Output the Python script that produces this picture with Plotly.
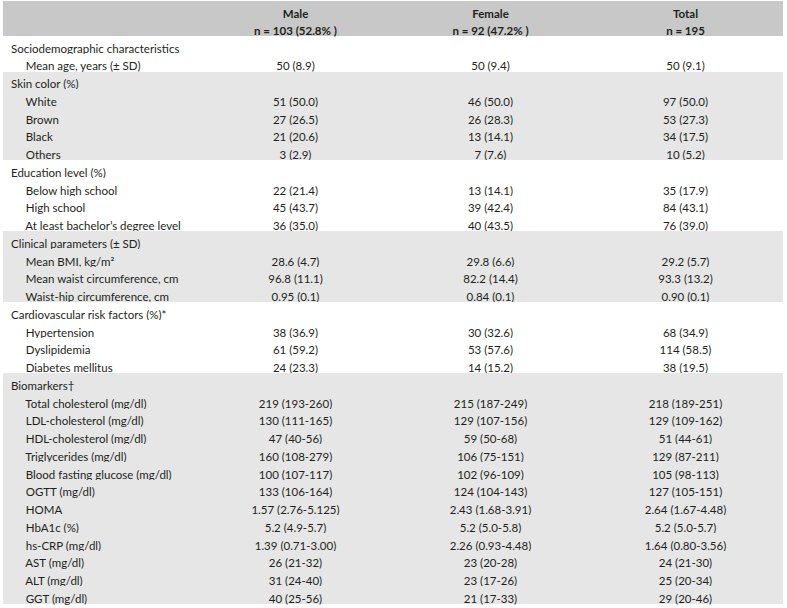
import plotly.graph_objects as go

# ---- data ----
header_top = ["", "Male", "Female", "Total"]
header_sub = ["", "n = 103 (52.8% )", "n = 92 (47.2% )", "n = 195"]

sections = [
    "Sociodemographic characteristics",
    "Skin color (%)",
    "Education level (%)",
    "Clinical parameters (± SD)",
    "Cardiovascular risk factors (%)*",
    "Biomarkers†",
]

section_items = [
    ["Mean age, years (± SD)"],
    ["White", "Brown", "Black", "Others"],
    ["Below high school", "High school", "At least bachelor’s degree level"],
    ["Mean BMI, kg/m²", "Mean waist circumference, cm", "Waist-hip circumference, cm"],
    ["Hypertension", "Dyslipidemia", "Diabetes mellitus"],
    ["Total cholesterol (mg/dl)", "LDL-cholesterol (mg/dl)", "HDL-cholesterol (mg/dl)",
     "Triglycerides (mg/dl)", "Blood fasting glucose (mg/dl)", "OGTT (mg/dl)", "HOMA",
     "HbA1c (%)", "hs-CRP (mg/dl)", "AST (mg/dl)", "ALT (mg/dl)", "GGT (mg/dl)"],
]

male_values = [
    ["50 (8.9)"],
    ["51 (50.0)", "27 (26.5)", "21 (20.6)", "3 (2.9)"],
    ["22 (21.4)", "45 (43.7)", "36 (35.0)"],
    ["28.6 (4.7)", "96.8 (11.1)", "0.95 (0.1)"],
    ["38 (36.9)", "61 (59.2)", "24 (23.3)"],
    ["219 (193-260)", "130 (111-165)", "47 (40-56)", "160 (108-279)", "100 (107-117)",
     "133 (106-164)", "1.57 (2.76-5.125)", "5.2 (4.9-5.7)", "1.39 (0.71-3.00)",
     "26 (21-32)", "31 (24-40)", "40 (25-56)"],
]

female_values = [
    ["50 (9.4)"],
    ["46 (50.0)", "26 (28.3)", "13 (14.1)", "7 (7.6)"],
    ["13 (14.1)", "39 (42.4)", "40 (43.5)"],
    ["29.8 (6.6)", "82.2 (14.4)", "0.84 (0.1)"],
    ["30 (32.6)", "53 (57.6)", "14 (15.2)"],
    ["215 (187-249)", "129 (107-156)", "59 (50-68)", "106 (75-151)", "102 (96-109)",
     "124 (104-143)", "2.43 (1.68-3.91)", "5.2 (5.0-5.8)", "2.26 (0.93-4.48)",
     "23 (20-28)", "23 (17-26)", "21 (17-33)"],
]

total_values = [
    ["50 (9.1)"],
    ["97 (50.0)", "53 (27.3)", "34 (17.5)", "10 (5.2)"],
    ["35 (17.9)", "84 (43.1)", "76 (39.0)"],
    ["29.2 (5.7)", "93.3 (13.2)", "0.90 (0.1)"],
    ["68 (34.9)", "114 (58.5)", "38 (19.5)"],
    ["218 (189-251)", "129 (109-162)", "51 (44-61)", "129 (87-211)", "105 (98-113)",
     "127 (105-151)", "2.64 (1.67-4.48)", "5.2 (5.0-5.7)", "1.64 (0.80-3.56)",
     "24 (21-30)", "25 (20-34)", "29 (20-46)"],
]

# ---- build table columns ----
INDENT = "\u00a0" * 5
BAND_COLORS = ["#ffffff", "#e6e6e6"]
col_label, col_m, col_f, col_t, fills = [], [], [], [], []
for i, sec in enumerate(sections):
    band = BAND_COLORS[i % 2]
    col_label.append(sec); col_m.append(""); col_f.append(""); col_t.append("")
    fills.append(band)
    for lab, m, f, t in zip(section_items[i], male_values[i], female_values[i], total_values[i]):
        col_label.append(INDENT + lab); col_m.append(m); col_f.append(f); col_t.append(t)
        fills.append(band)

family = "Lato, 'Open Sans', sans-serif"
cell_font = dict(family=family, size=11.5, color="#231f20")
head_font = dict(family=family, size=11.5, color="#231f20", weight="bold")
no_line = dict(color="rgba(0,0,0,0)", width=0)

fig = go.Figure(go.Table(
    columnwidth=[1, 1, 1, 1],
    header=dict(values=[[a, b] for a, b in zip(header_top, header_sub)],
                fill_color="#c8c8c8", line=no_line,
                align=["left", "center", "center", "center"],
                font=head_font, height=17.5),
    cells=dict(values=[col_label, col_m, col_f, col_t],
               fill_color=[fills] * 4, line=no_line,
               align=["left", "center", "center", "center"],
               font=cell_font, height=17.75),
))
fig.update_layout(width=787, height=608, margin=dict(l=3, r=4, t=1, b=0),
                  paper_bgcolor="white")
fig.write_html("out.html", config={"displayModeBar": False},
               post_script="document.body.style.margin='0';")
